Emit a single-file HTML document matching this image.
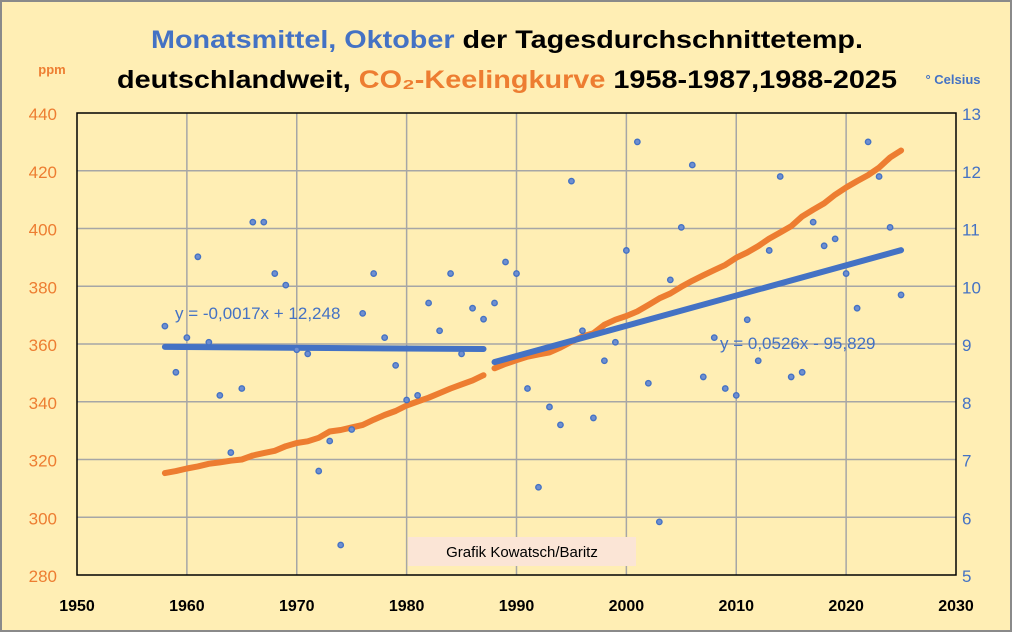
<!DOCTYPE html>
<html><head><meta charset="utf-8"><style>
body{margin:0;background:#fff}
svg{display:block;font-family:"Liberation Sans",sans-serif}
</style></head><body>
<svg id="chart" width="1012" height="632" viewBox="0 0 1012 632">
<rect x="1" y="1" width="1010" height="630" fill="#ffeeb4" stroke="#8a8a8a" stroke-width="2"/>
<g id="grid"></g>
<rect x="77" y="113" width="879" height="462" fill="none" stroke="#000" stroke-width="1.5"/>
<g id="ticks"></g>
<g id="series"></g>
<text x="507" y="48" text-anchor="middle" font-weight="bold" font-size="25" textLength="712" lengthAdjust="spacingAndGlyphs"><tspan fill="#4472c4">Monatsmittel, Oktober</tspan><tspan fill="#000"> der Tagesdurchschnittetemp.</tspan></text>
<text x="507" y="88" text-anchor="middle" font-weight="bold" font-size="25" textLength="780" lengthAdjust="spacingAndGlyphs"><tspan fill="#000">deutschlandweit, </tspan><tspan fill="#ed7d31">CO₂-Keelingkurve</tspan><tspan fill="#000"> 1958-1987,1988-2025</tspan></text>
<text x="52" y="74" text-anchor="middle" font-size="13" font-weight="bold" fill="#ed7d31">ppm</text>
<text x="953" y="84" text-anchor="middle" font-size="13" font-weight="bold" fill="#4472c4">° Celsius</text>
<rect x="408" y="537" width="228" height="29" fill="#fbe5d6"/>
<text x="522" y="557" text-anchor="middle" font-size="15" fill="#000">Grafik  Kowatsch/Baritz</text>
<text x="175" y="319" font-size="17" fill="#4472c4">y = -0,0017x + 12,248</text>
<text x="720" y="349" font-size="17" fill="#4472c4">y = 0,0526x - 95,829</text>
</svg>
<script>
const xTicks=[1950,1960,1970,1980,1990,2000,2010,2020,2030];
const ppmTicks=[280,300,320,340,360,380,400,420,440];
const tempTicks=[5,6,7,8,9,10,11,12,13];
const years=[1958,1959,1960,1961,1962,1963,1964,1965,1966,1967,1968,1969,1970,1971,1972,1973,1974,1975,1976,1977,1978,1979,1980,1981,1982,1983,1984,1985,1986,1987,1988,1989,1990,1991,1992,1993,1994,1995,1996,1997,1998,1999,2000,2001,2002,2003,2004,2005,2006,2007,2008,2009,2010,2011,2012,2013,2014,2015,2016,2017,2018,2019,2020,2021,2022,2023,2024,2025];
const temps=[9.31,8.51,9.11,10.51,9.03,8.11,7.12,8.23,11.11,11.11,10.22,10.02,8.9,8.83,6.8,7.32,5.52,7.52,9.53,10.22,9.11,8.63,8.03,8.11,9.71,9.23,10.22,8.83,9.62,9.43,9.71,10.42,10.22,8.23,6.52,7.91,7.6,11.82,9.23,7.72,8.71,9.03,10.62,12.5,8.32,5.92,10.11,11.02,12.1,8.43,9.11,8.23,8.11,9.42,8.71,10.62,11.9,8.43,8.51,11.11,10.7,10.82,10.22,9.62,12.5,11.9,11.02,9.85];
const co2=[315.3,316,316.9,317.6,318.5,319,319.6,320.0,321.4,322.2,323.0,324.6,325.7,326.3,327.5,329.7,330.2,331.1,332.0,333.8,335.4,336.8,338.7,340.1,341.4,343.0,344.6,346.0,347.4,349.2,351.6,353.1,354.4,355.6,356.4,357.1,358.8,360.8,362.6,363.7,366.7,368.4,369.7,371.3,373.5,375.8,377.5,379.8,381.9,383.8,385.6,387.4,389.9,391.7,393.9,396.5,398.6,400.8,404.2,406.5,408.7,411.7,414.2,416.4,418.5,421.1,424.6,427.0];
const periods=[[1958,1987],[1988,2025]];
const NS='http://www.w3.org/2000/svg';
const X0=77,X1=956,Y0=113,Y1=575;
const xs=v=>X0+(v-1950)/80*(X1-X0);
const yp=v=>Y1-(v-280)/160*(Y1-Y0);
const yt=v=>Y1-(v-5)/8*(Y1-Y0);
function mk(tag,attrs,parent){const e=document.createElementNS(NS,tag);for(const k in attrs)e.setAttribute(k,attrs[k]);parent.appendChild(e);return e;}
const grid=document.getElementById('grid'),ticks=document.getElementById('ticks'),series=document.getElementById('series');
xTicks.forEach(t=>{
  if(t>1950&&t<2030){const l=mk('line',{x1:xs(t),x2:xs(t),y1:Y0,y2:Y1,stroke:'#a6a6a6','stroke-width':1.5},grid);
  
  }
  const tx=mk('text',{x:xs(t),y:611,'text-anchor':'middle','font-size':16,'font-weight':'bold',fill:'#000'},ticks);tx.textContent=t;
  
  
});
ppmTicks.forEach(t=>{
  if(t>280&&t<440){const l=mk('line',{x1:X0,x2:X1,y1:yp(t),y2:yp(t),stroke:'#a6a6a6','stroke-width':1.5},grid);
  
  }
  const tx=mk('text',{x:57,y:yp(t)+7,'text-anchor':'end','font-size':17,fill:'#ed7d31'},ticks);tx.textContent=t;
  
  
});
tempTicks.forEach(t=>{
  const tx=mk('text',{x:962,y:yt(t)+7,'font-size':17,fill:'#4472c4'},ticks);tx.textContent=t;
  
  
});
periods.forEach(([a,b])=>{
  const pts=[];years.forEach((y,i)=>{if(y>=a&&y<=b)pts.push(xs(y).toFixed(1)+','+yp(co2[i]).toFixed(1));});
  const p=mk('polyline',{points:pts.join(' '),fill:'none',stroke:'#ed7d31','stroke-width':6,'stroke-linecap':'round','stroke-linejoin':'round'},series);
  
  
});
periods.forEach(([a,b])=>{
  const xv=[],yv=[];years.forEach((y,i)=>{if(y>=a&&y<=b){xv.push(y);yv.push(temps[i]);}});
  const n=xv.length,mx=xv.reduce((s,v)=>s+v,0)/n,my=yv.reduce((s,v)=>s+v,0)/n;
  let sxy=0,sxx=0;for(let i=0;i<n;i++){sxy+=(xv[i]-mx)*(yv[i]-my);sxx+=(xv[i]-mx)**2;}
  const m=sxy/sxx,c=my-m*mx;
  const l=mk('line',{x1:xs(a),y1:yt(m*a+c),x2:xs(b),y2:yt(m*b+c),stroke:'#4472c4','stroke-width':6,'stroke-linecap':'round'},series);
  
  
});
years.forEach((y,i)=>{
  const c=mk('circle',{cx:xs(y),cy:yt(temps[i]),r:2.7,fill:'#6f8fd0',stroke:'#4472c4','stroke-width':1.4},series);
  
  
});
</script>
</body></html>
